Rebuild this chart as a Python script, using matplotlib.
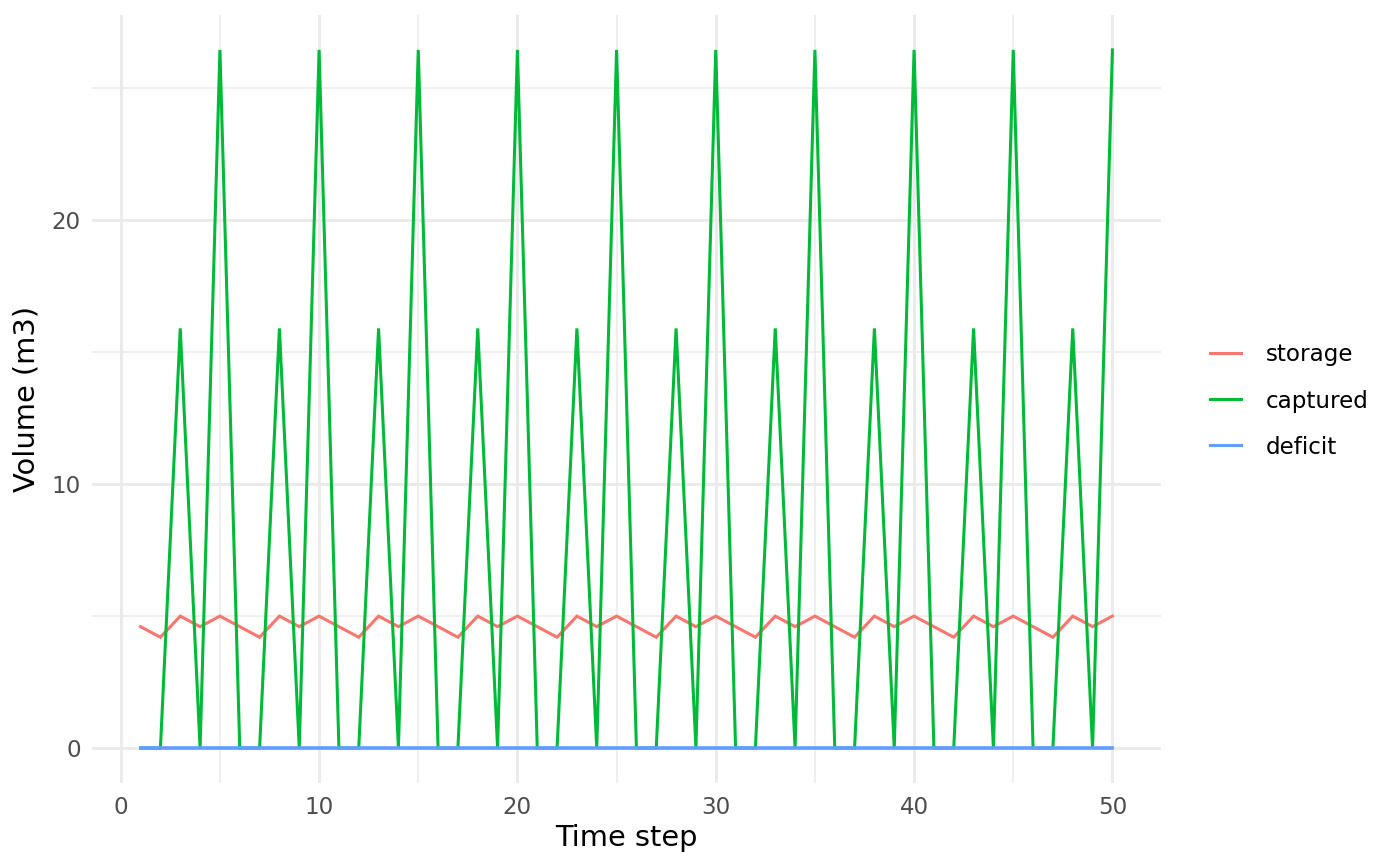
import matplotlib
matplotlib.use("Agg")
import matplotlib.pyplot as plt
import numpy as np

time_step = list(range(1, 51))
storage_cycle = [4.6, 4.2, 5.0, 4.6, 5.0]
captured_cycle = [0.0, 0.0, 15.9, 0.0, 26.45]
storage = storage_cycle * 10
captured = captured_cycle * 10
deficit = [0.0] * 50

series_names = ["storage", "captured", "deficit"]
series_colors = ["#F8766D", "#00BA38", "#619CFF"]

W, H, DPI = 1400, 866, 200
fig = plt.figure(figsize=(W / DPI, H / DPI), dpi=DPI)
ax = fig.add_axes([92 / W, (H - 783) / H, (1161 - 92) / W, (783 - 15) / H])

lw = 1.1
handles = []
for name, vals, col in zip(series_names, [storage, captured, deficit], series_colors):
    h, = ax.plot(time_step, vals, color=col, lw=(1.3 if name == "deficit" else lw),
                 label=name, solid_joinstyle="miter")
    handles.append(h)

xmin, xmax = 1, 50
xr = xmax - xmin
ax.set_xlim(xmin - 0.05 * xr, xmax + 0.05 * xr)
ymax = max(captured)
ax.set_ylim(-0.05 * ymax, ymax * 1.05)

ax.set_xticks([0, 10, 20, 30, 40, 50])
ax.set_xticks([5, 15, 25, 35, 45], minor=True)
ax.set_yticks([0, 10, 20])
ax.set_yticks([5, 15, 25], minor=True)
ax.grid(which="major", color="#EBEBEB", lw=1.05)
ax.grid(which="minor", color="#EBEBEB", lw=0.55)
ax.set_axisbelow(True)
for s in ax.spines.values():
    s.set_visible(False)
ax.tick_params(which="both", length=0)
ax.tick_params(axis="both", labelsize=8.3, labelcolor="#4D4D4D")
ax.tick_params(axis="x", pad=4.5)
ax.tick_params(axis="y", pad=4)
ax.set_xlabel("Time step", fontsize=10.4, labelpad=2)
ax.set_ylabel("Volume (m3)", fontsize=10.4, labelpad=4)

leg = fig.legend(handles=handles, labels=series_names, loc="center left",
                 bbox_to_anchor=(1198 / W, 1 - 401 / H), frameon=False,
                 fontsize=8.3, handlelength=1.35, handletextpad=1.1,
                 labelspacing=1.0, borderpad=0)
for lh in leg.get_lines():
    lh.set_linewidth(1.1)

fig.savefig("out.png", dpi=DPI, facecolor="white")
